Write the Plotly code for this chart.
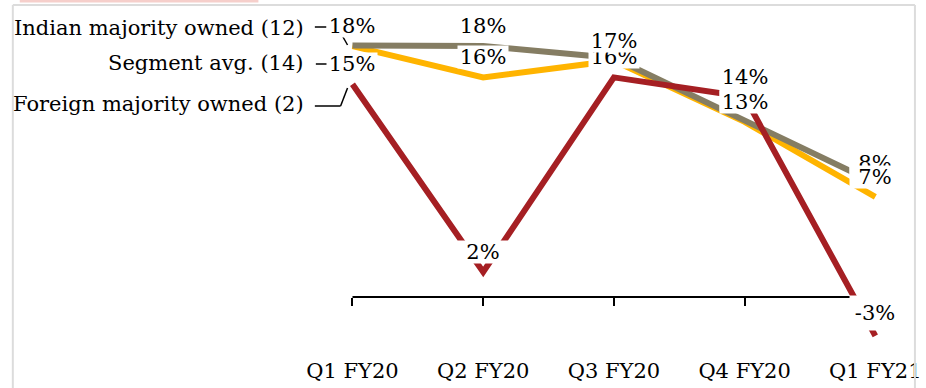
import plotly.graph_objects as go

# ---- data ----
categories = ["Q1 FY20", "Q2 FY20", "Q3 FY20", "Q4 FY20", "Q1 FY21"]
indian = [18.1, 18.05, 17.2, 12.7, 8.2]
segment = [18.05, 15.8, 17.0, 12.6, 7.2]
foreign = [15.3, 1.8, 15.8, 14.4, -2.8]
series_names = ["Indian majority owned (12)", "Segment avg. (14)", "Foreign majority owned (2)"]

# ---- geometry (pixels) ----
W, H = 926, 388
L, R, T, B = 300, 914, 5, 350
X0, DX = 353, 132
Z, S = 297, 13.9
xr = [(L - X0) / DX, (R - X0) / DX]
yr = [(Z - B) / S, (Z - T) / S]
pw, ph = R - L, B - T


def px(x):
    return (x - L) / pw


def py(y):
    return (B - y) / ph


FONT = "DejaVu Serif"
FS = 21
GREY, YELLOW, RED = "#857D63", "#FFB400", "#A51F23"

fig = go.Figure()
for name, vals, col in [(series_names[1], segment, YELLOW),
                        (series_names[0], indian, GREY),
                        (series_names[2], foreign, RED)]:
    fig.add_trace(go.Scatter(x=categories, y=vals, mode="lines", name=name,
                             line=dict(color=col, width=6), hoverinfo="skip"))

annotations = []
# data labels (white boxes, drawn red -> grey -> yellow)
for vals in (foreign, indian, segment):
    for c, v in zip(categories, vals):
        neg = v < 0
        annotations.append(dict(x=c, y=v, xref="x", yref="y", text=f"{round(v)}%",
                                showarrow=False, yshift=23 if neg else 20,
                                height=34 if neg else 22, width=50,
                                bgcolor="white", borderpad=0,
                                font=dict(family=FONT, size=FS, color="black")))
# series name labels
for name, ypix in zip(series_names, [28, 63, 104]):
    annotations.append(dict(x=px(306), y=py(ypix), xref="paper", yref="paper",
                            text=name, showarrow=False, xanchor="right",
                            yanchor="middle",
                            font=dict(family=FONT, size=FS, color="black")))

shapes = []
# x axis baseline at zero
shapes.append(dict(type="line", xref="x", yref="y", x0=categories[0],
                   x1=categories[-1], y0=0, y1=0,
                   line=dict(color="black", width=2), layer="below"))
# leader lines
for (x0, y0, x1, y1) in [(315, 27, 334, 27), (340, 31, 348, 45),
                         (316, 64, 328, 64),
                         (315, 106, 341, 106), (341, 106, 348, 88)]:
    shapes.append(dict(type="line", xref="paper", yref="paper",
                       x0=px(x0), y0=py(y0), x1=px(x1), y1=py(y1),
                       line=dict(color="black", width=1.5)))
# outer frame
for (x0, y0, x1, y1) in [(10, 5, 921, 5), (10, 5, 10, 390), (921, 5, 921, 390)]:
    shapes.append(dict(type="line", xref="paper", yref="paper",
                       x0=px(x0), y0=py(y0), x1=px(x1), y1=py(y1),
                       line=dict(color="#DCDCDC", width=2)))
# title remnant bar
shapes.append(dict(type="rect", xref="paper", yref="paper",
                   x0=px(17), x1=px(258), y0=py(0), y1=py(2.5),
                   line=dict(width=0), fillcolor="#F6CFCB"))

fig.update_layout(
    width=W, height=H,
    margin=dict(l=L, r=W - R, t=T, b=H - B, pad=0),
    paper_bgcolor="white", plot_bgcolor="rgba(0,0,0,0)",
    showlegend=False,
    annotations=annotations, shapes=shapes,
    xaxis=dict(type="category", range=xr, showgrid=False, zeroline=False,
               showline=False, ticks="outside", ticklen=8, tickwidth=2,
               tickcolor="black", anchor="free",
               position=(0 - yr[0]) / (yr[1] - yr[0]),
               ticklabelstandoff=47,
               tickfont=dict(family=FONT, size=FS, color="black")),
    yaxis=dict(range=yr, visible=False, showgrid=False, zeroline=False),
)

fig.write_html("out.html")
